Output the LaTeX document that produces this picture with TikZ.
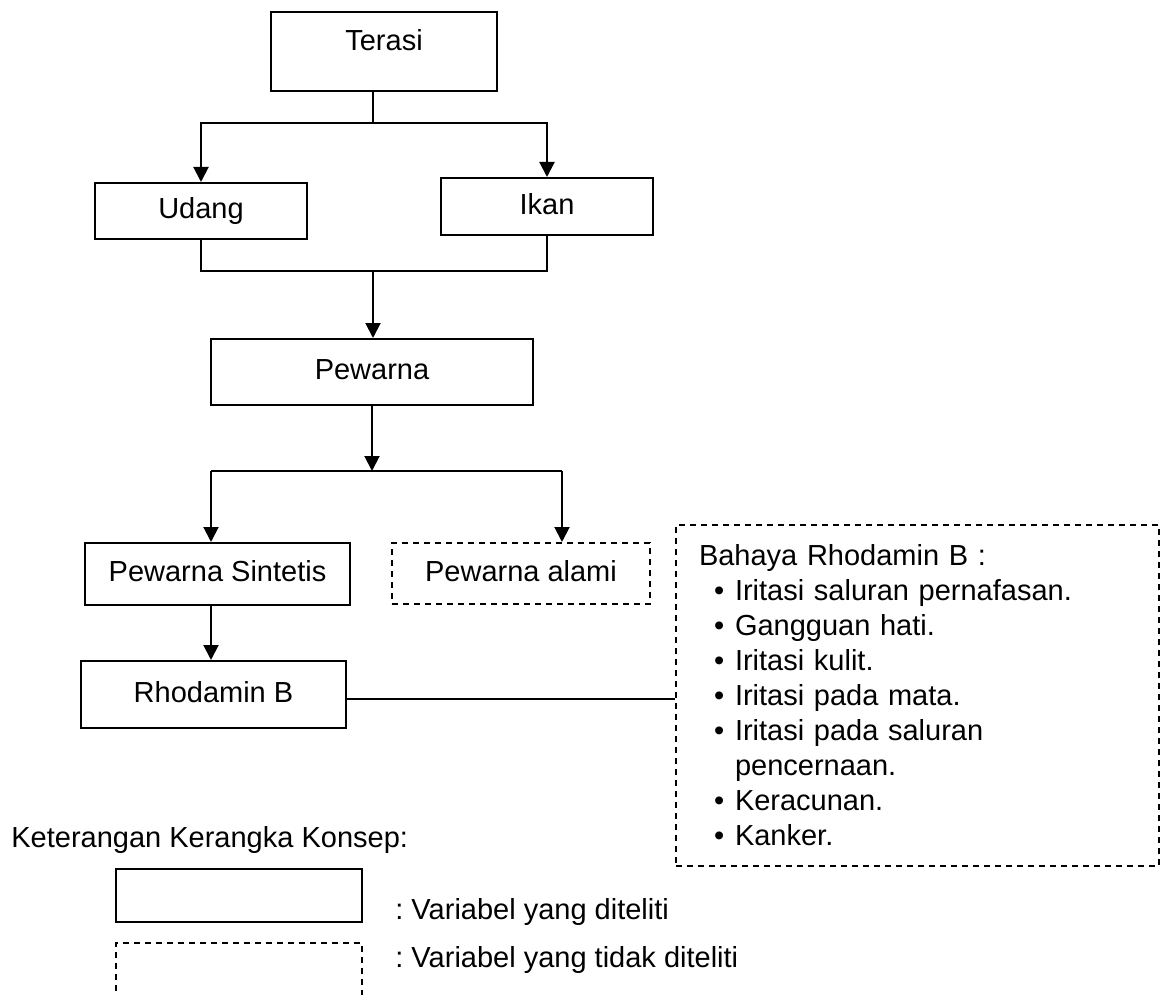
\documentclass[tikz,border=0pt]{standalone}
\usepackage{fontspec}
\setmainfont{Liberation Sans}
\usepackage{tikz}
\usetikzlibrary{arrows.meta,positioning,calc}
\newcommand{\butir}[1]{\hspace*{7.5pt}\makebox[10.5pt][l]{\textbullet}#1}
\tikzset{
  kotak/.style={draw,line width=1pt,inner sep=0pt,text height=10.5pt,text depth=3pt},
  kotakputus/.style={kotak,dash pattern=on 3pt off 2.5pt},
  panah/.style={line width=1pt,-{Triangle[length=7.5pt,width=7.5pt]}},
  hubung/.style={line width=1pt}
}
\begin{document}
\begin{tikzpicture}[x=0.5pt,y=-0.5pt,font=\fontsize{14.5}{17.5}\selectfont\frenchspacing]
  \useasboundingbox (0,0) rectangle (1174,995);
  \node[kotak,minimum width=113pt,minimum height=39.5pt,text depth=11.5pt] (terasi) at (384,51.5) {Terasi};
  \node[kotak,minimum width=106pt,minimum height=28pt] (udang) at (201,211) {Udang};
  \node[kotak,minimum width=106pt,minimum height=28.5pt] (ikan) at (547,206.5) {Ikan};
  \node[kotak,minimum width=161pt,minimum height=33pt] (pewarna) at (372,372) {Pewarna};
  \node[kotak,minimum width=132.5pt,minimum height=31pt] (sintetis) at (217.5,574) {Pewarna Sintetis};
  \node[kotakputus,minimum width=129pt,minimum height=30.5pt] (alami) at (521,573.5) {Pewarna alami};
  \node[kotak,minimum width=132.5pt,minimum height=33.5pt] (rhodamin) at (213.5,694.5) {Rhodamin B};
  \node[draw,line width=1pt,dash pattern=on 3pt off 2.5pt,inner xsep=11.5pt,inner ysep=0pt,
        text width=218.5pt,align=left,minimum height=170.5pt] (bahaya) at (917.5,695.5)
    {Bahaya Rhodamin B :\\
     \butir{Iritasi saluran pernafasan.}\\
     \butir{Gangguan hati.}\\
     \butir{Iritasi kulit.}\\
     \butir{Iritasi pada mata.}\\
     \butir{Iritasi pada saluran}\\
     \hspace*{18pt}pencernaan.\\
     \butir{Keracunan.}\\
     \butir{Kanker.}};
  % keterangan
  \node[anchor=west,inner sep=0pt] (ket) at (11,840) {Keterangan Kerangka Konsep:};
  \node[kotak,minimum width=123pt,minimum height=26.5pt] (legditeliti) at (239,895.5) {};
  \node[kotakputus,minimum width=123pt,minimum height=30pt] (legtidak) at (239,973) {};
  \node[anchor=west,inner sep=0pt] (ketditeliti) at (395,912) {: Variabel yang diteliti};
  \node[anchor=west,inner sep=0pt] (kettidak) at (395,960) {: Variabel yang tidak diteliti};
  % connectors
  \coordinate (c1) at (373,123);
  \coordinate (c2) at (373,271);
  \coordinate (kiri) at (211,471);
  \coordinate (tengah) at (372,471);
  \coordinate (kanan) at (562,471);
  \draw[hubung] (terasi.south -| c1) -- (c1);
  \draw[panah] (c1) -| (udang.north);
  \draw[panah] (c1) -| (ikan.north);
  \draw[hubung] (udang.south) |- (c2) -| (ikan.south);
  \draw[panah] (c2) -- (pewarna.north -| c2);
  \draw[panah] (pewarna.south) -- (tengah);
  \draw[hubung] (kiri) -- (kanan);
  \draw[panah] (kiri) -- (kiri |- sintetis.north);
  \draw[panah] (kanan) -- (kanan |- alami.north);
  \draw[panah] (kiri |- sintetis.south) -- (kiri |- rhodamin.north);
  \draw[hubung] ([yshift=-2.25pt]rhodamin.east) -- ([yshift=-2.25pt]rhodamin.east -| bahaya.west);
\end{tikzpicture}
\end{document}
